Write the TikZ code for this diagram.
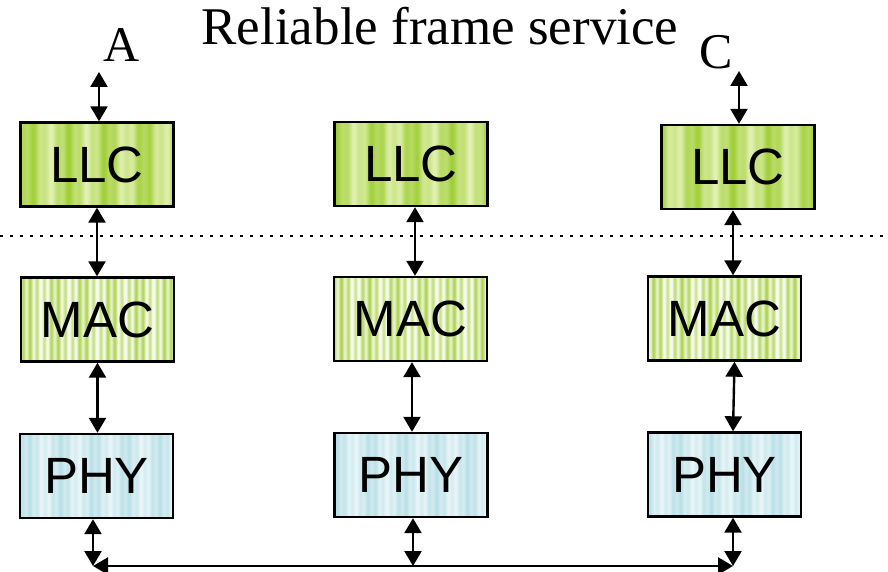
\documentclass[tikz,border=0pt]{standalone}
\usepackage{fontspec}
\setmainfont{Liberation Serif}
\newfontfamily\arialf{Liberation Sans}
\usetikzlibrary{arrows.meta}
\definecolor{llcdark}{RGB}{160,206,55}
\definecolor{llclight}{RGB}{226,241,180}
\definecolor{macdark}{RGB}{170,210,75}
\definecolor{maclight}{RGB}{246,250,234}
\definecolor{phydark}{RGB}{182,222,230}
\definecolor{phylight}{RGB}{232,245,248}
\begin{document}
\begin{tikzpicture}[x=1pt,y=-1pt,
  box/.style={draw=black, line width=2.4pt, inner sep=0pt,
    font=\arialf\fontsize{51}{51}\selectfont,
    minimum width=153pt, minimum height=84pt},
  llcfill/.style={path picture={
    \foreach \i in {0,...,160}{
      \pgfmathtruncatemacro\f{max(0,min(100,50+34*sin(\i*9.5+#1)+16*sin(\i*31+60)))}
      \fill[llcdark!\f!llclight] ([xshift=\i*1pt]path picture bounding box.south west) rectangle ([xshift=\i*1pt+1.4pt]path picture bounding box.north west);
    }}},
  macfill/.style={path picture={
    \foreach \i in {0,...,160}{
      \pgfmathtruncatemacro\f{max(0,min(100,40+35*sin(\i*51+#1)+20*sin(\i*13)))}
      \fill[macdark!\f!maclight] ([xshift=\i*1pt]path picture bounding box.south west) rectangle ([xshift=\i*1pt+1.4pt]path picture bounding box.north west);
    }}},
  phyfill/.style={path picture={
    \foreach \i in {0,...,160}{
      \pgfmathtruncatemacro\f{max(0,min(100,45+30*sin(\i*11+#1)+20*sin(\i*47)))}
      \fill[phydark!\f!phylight] ([xshift=\i*1pt]path picture bounding box.south west) rectangle ([xshift=\i*1pt+1.4pt]path picture bounding box.north west);
    }}},
  dbl/.style={{Triangle[width=17pt,length=15pt]}-{Triangle[width=17pt,length=15pt]}, line width=2.4pt},
  serifl/.style={font=\fontsize{50}{50}\selectfont, inner sep=0pt, anchor=base}
]
\useasboundingbox (0,0) rectangle (888,572);

% title and end labels
\node[serifl] (title) at (440,45) {\fontsize{53}{53}\selectfont Reliable frame service};
\node[serifl] (lA) at (122,62) {A};
\node[serifl] (lC) at (716,69) {C};

% dotted separator
\coordinate (dl) at (0,236);
\coordinate (dr) at (888,236);
\draw[line width=2.6pt, dash pattern=on 2.6pt off 7.4pt] (dl) -- (dr);

% LLC
\node[box, llcfill=0]   (llcA) at (97,164.5) {LLC};
\node[box, llcfill=70]  (llcB) at (411,164) {LLC};
\node[box, llcfill=140] (llcC) at (738,167) {LLC};
% MAC
\node[box, macfill=0]   (macA) at (97.5,319.5) {MAC};
\node[box, macfill=90]  (macB) at (410.5,319) {MAC};
\node[box, macfill=180] (macC) at (724.5,318.5) {MAC};
% PHY
\node[box, phyfill=0]   (phyA) at (96.5,476) {PHY};
\node[box, phyfill=60]  (phyB) at (411,475) {PHY};
\node[box, phyfill=120] (phyC) at (724.5,474.5) {PHY};

% top arrows
\coordinate (tA) at (99,72);
\coordinate (tC) at (739,71);
\draw[dbl] (tA) -- (tA |- llcA.north);
\draw[dbl] (tC) -- (tC |- llcC.north);

% LLC -> MAC
\draw[dbl] (llcA.south) -- (llcA.south |- macA.north);
\draw[dbl] ([xshift=4pt]llcB.south) -- ([xshift=4pt]llcB.south |- macB.north);
\draw[dbl] ([xshift=-5pt]llcC.south) -- ([xshift=-5pt]llcC.south |- macC.north);

% MAC -> PHY
\draw[dbl] (macA.south) -- (macA.south |- phyA.north);
\draw[dbl] ([xshift=1.5pt]macB.south) -- ([xshift=1.5pt]macB.south |- phyB.north);
\draw[dbl] ([xshift=10pt]macC.south) -- ([xshift=8.5pt]macC.south |- phyC.north);

% PHY -> bus
\coordinate (busL) at (93,566);
\coordinate (busB) at (413,566);
\coordinate (busR) at (733,566);
\draw[dbl] (busL |- phyA.south) -- (busL);
\draw[dbl] (busB |- phyB.south) -- (busB);
\draw[dbl] (busR |- phyC.south) -- (busR);
\draw[dbl] (busL) -- (busR);
\end{tikzpicture}
\end{document}
